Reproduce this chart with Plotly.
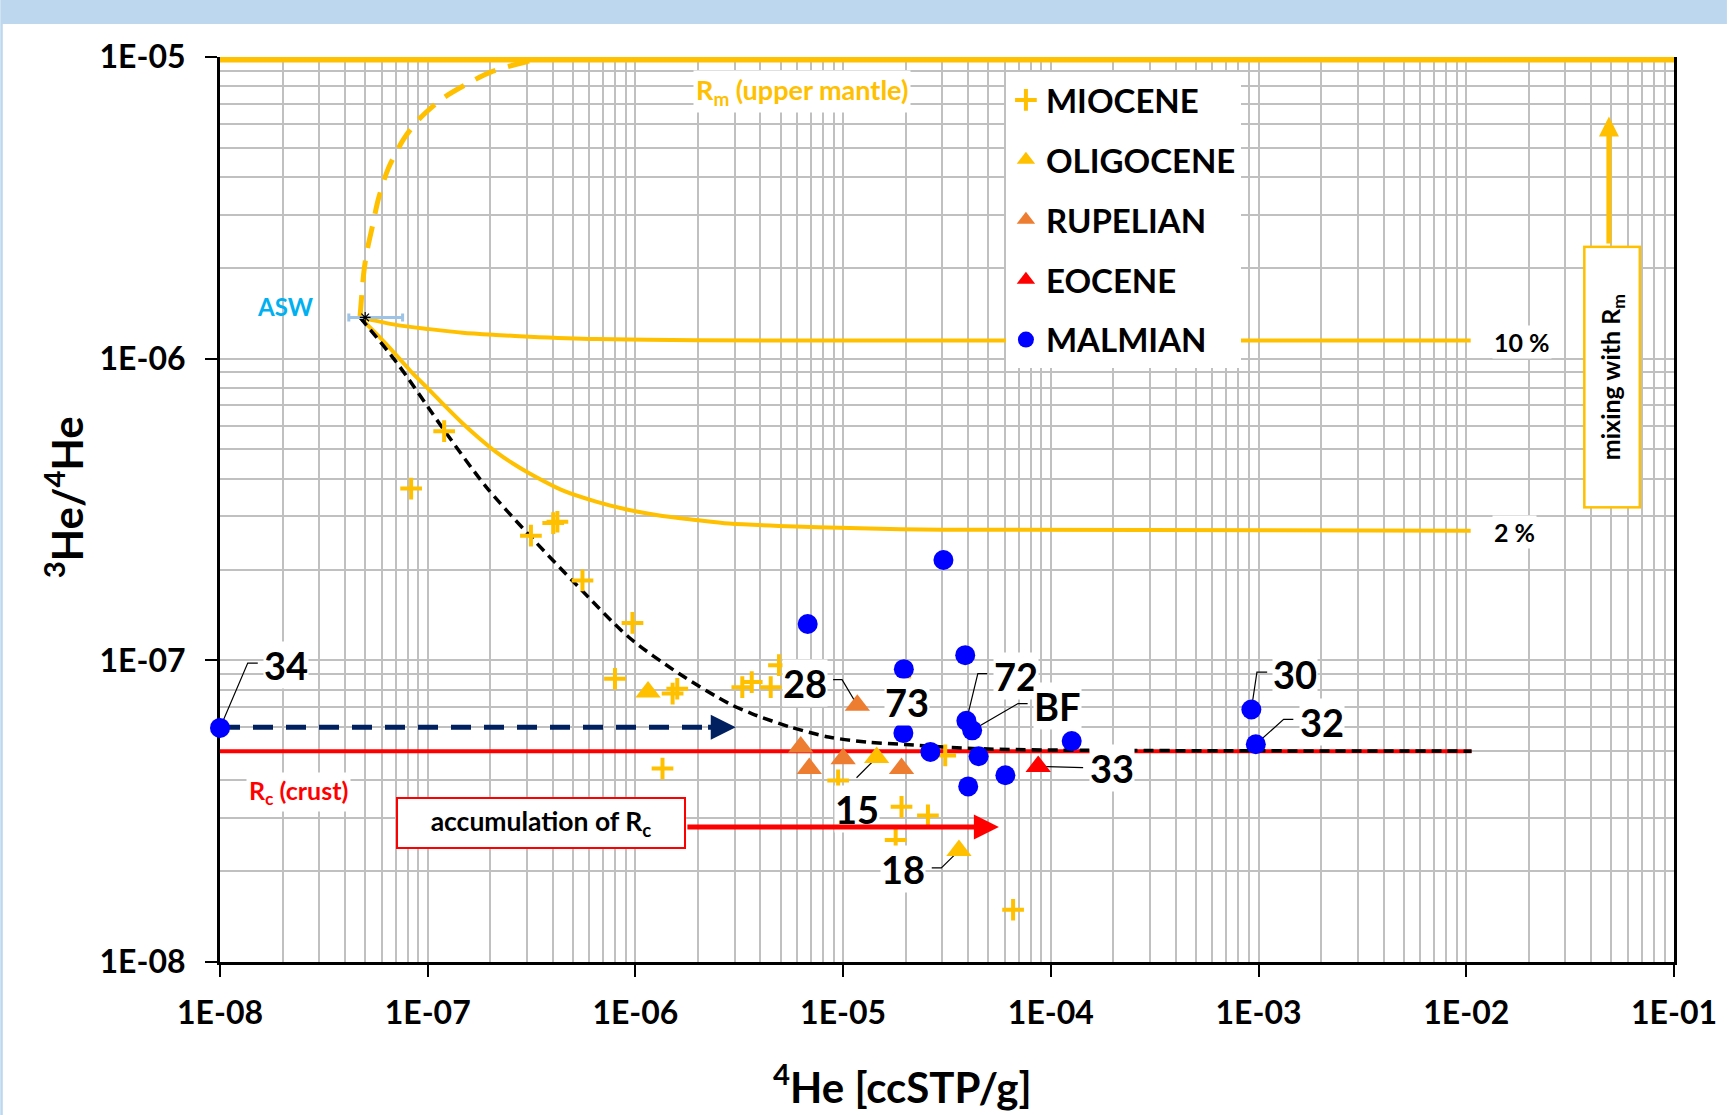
import numpy as np
import plotly.graph_objects as go

# ---------------- colours / fonts ----------------
GOLD = "#FFC000"
ORANGE = "#ED7D31"
RED = "#FF0000"
BLUE = "#0000FF"
NAVY = "#002060"
GRID = "#C0C0C0"
ASWBLUE = "#00B0F0"
FONT = "Lato"

# ---------------- sample data (4He [ccSTP/g], 3He/4He) ----------------
miocene_x = [1.20e-7, 8.32e-8, 3.14e-7, 4.02e-7, 4.21e-7, 5.56e-7, 9.68e-7, 7.97e-7,
             1.51e-6, 1.59e-6, 3.27e-6, 3.63e-6, 4.48e-6, 4.91e-6, 1.35e-6, 9.46e-6,
             1.91e-5, 2.56e-5, 1.79e-5, 2.08e-5, 3.10e-5, 6.58e-5]
miocene_y = [5.75e-7, 3.71e-7, 2.59e-7, 2.85e-7, 2.88e-7, 1.84e-7, 1.33e-7, 8.69e-8,
             7.76e-8, 8.05e-8, 8.15e-8, 8.47e-8, 8.15e-8, 9.64e-8, 4.38e-8, 4.00e-8,
             3.27e-8, 3.06e-8, 2.54e-8, 8.26e-8, 4.84e-8, 1.49e-8]

oligocene_x = [1.15e-6, 1.45e-5, 3.61e-5]
oligocene_y = [7.85e-8, 4.76e-8, 2.34e-8]

rupelian_x = [1.17e-5, 6.25e-6, 6.87e-6, 1.00e-5, 1.91e-5]
rupelian_y = [7.10e-8, 5.16e-8, 4.38e-8, 4.72e-8, 4.38e-8]

eocene_x = [8.69e-5]
eocene_y = [4.45e-8]

malmian_x = [1.00e-8, 6.75e-6, 3.04e-5, 1.96e-5, 3.87e-5, 1.95e-5, 3.92e-5, 4.18e-5,
             2.63e-5, 4.49e-5, 4.00e-5, 6.04e-5, 1.26e-4, 9.23e-4, 9.70e-4]
malmian_y = [5.97e-8, 1.32e-7, 2.15e-7, 9.35e-8, 1.04e-7, 5.74e-8, 6.30e-8, 5.86e-8,
             4.97e-8, 4.81e-8, 3.82e-8, 4.16e-8, 5.40e-8, 6.87e-8, 5.27e-8]

# ---------------- reference values ----------------
R_mantle = 1.0e-5
R_crust = 5.0e-8
asw_x, asw_y = 5.0e-8, 1.37e-6
asw_err_minus, asw_err_plus = 0.83e-8, 2.57e-8

# mixing curves
mix10_x = [4.72e-8, 7.04e-8, 1.02e-7, 1.47e-7, 2.13e-7, 3.08e-7, 6.46e-7, 1.95e-6, 4.91e-6, 1.05e-2]
mix10_y = [1.37e-6, 1.294e-6, 1.253e-6, 1.219e-6, 1.199e-6, 1.183e-6, 1.161e-6, 1.151e-6, 1.148e-6, 1.148e-6]

mix2_x = [4.72e-8, 5.85e-8, 7.04e-8, 8.45e-8, 1.02e-7, 1.22e-7, 1.47e-7, 1.77e-7, 2.13e-7, 2.56e-7,
          3.08e-7, 4.46e-7, 6.46e-7, 9.33e-7, 1.35e-6, 1.95e-6, 2.82e-6, 4.91e-6, 3.0e-5, 1.05e-2]
mix2_y = [1.37e-6, 1.18e-6, 1.03e-6, 8.95e-7, 7.87e-7, 6.93e-7, 6.11e-7, 5.45e-7, 4.91e-7, 4.50e-7,
          4.17e-7, 3.66e-7, 3.36e-7, 3.15e-7, 3.01e-7, 2.92e-7, 2.84e-7, 2.79e-7, 2.71e-7, 2.69e-7]

crust_mix_x = [4.72e-8, 7.04e-8, 1.20e-7, 1.91e-7, 3.08e-7, 5.16e-7, 9.33e-7, 1.62e-6, 2.82e-6,
               3.65e-6, 5.57e-6, 8.51e-6, 1.30e-5, 1.99e-5, 3.04e-5, 4.65e-5, 1.08e-4, 1.06e-2]
crust_mix_y = [1.37e-6, 9.77e-7, 5.79e-7, 3.76e-7, 2.60e-7, 1.79e-7, 1.19e-7, 9.04e-8, 7.19e-8,
               6.65e-8, 6.01e-8, 5.57e-8, 5.36e-8, 5.26e-8, 5.16e-8, 5.09e-8, 5.04e-8, 5.00e-8]

mantle_mix_x = [4.72e-8, 4.92e-8, 5.08e-8, 5.42e-8, 5.78e-8, 6.44e-8, 7.67e-8, 9.12e-8,
                1.17e-7, 1.50e-7, 2.01e-7, 2.99e-7, 3.90e-7]
mantle_mix_y = [1.37e-6, 1.92e-6, 2.24e-6, 2.75e-6, 3.37e-6, 4.25e-6, 5.35e-6, 6.24e-6,
                7.26e-6, 8.05e-6, 8.91e-6, 9.64e-6, 1.0e-5]

rm_line_x = [1e-8, 1e-1]
rc_line_x = [1e-8, 1.06e-2]

# ---------------- annotation geometry (data units) ----------------
label_text = ["34", "28", "73", "72", "BF", "33", "15", "18", "30", "32"]
label_x = [2.08e-8, 6.52e-6, 2.03e-5, 6.81e-5, 1.08e-4, 1.96e-4, 1.17e-5, 1.95e-5, 1.50e-3, 2.01e-3]
label_y = [9.66e-8, 8.41e-8, 7.28e-8, 8.85e-8, 7.05e-8, 4.38e-8, 3.22e-8, 2.04e-8, 9.04e-8, 6.25e-8]

leader_x = [[1.52e-8, 1.36e-8, 1.00e-8],
            [8.95e-6, 9.88e-6, 1.17e-5],
            [4.94e-5, 4.45e-5, 3.92e-5],
            [7.73e-5, 6.95e-5, 4.18e-5],
            [1.43e-4, 8.69e-5],
            [1.16e-5, 1.45e-5],
            [2.67e-5, 2.97e-5, 3.61e-5],
            [1.10e-3, 9.82e-4, 9.23e-4],
            [1.47e-3, 1.32e-3, 9.70e-4]]
leader_y = [[9.79e-8, 9.79e-8, 5.97e-8],
            [8.63e-8, 8.63e-8, 7.10e-8],
            [9.04e-8, 9.04e-8, 6.30e-8],
            [7.19e-8, 7.19e-8, 5.86e-8],
            [4.41e-8, 4.45e-8],
            [4.08e-8, 4.76e-8],
            [2.05e-8, 2.05e-8, 2.34e-8],
            [9.14e-8, 9.14e-8, 6.87e-8],
            [6.37e-8, 6.37e-8, 5.27e-8]]

navy_arrow_x = [1.0e-8, 2.45e-6]
navy_arrow_y = [6.0e-8, 6.0e-8]
navy_head_tail_x, navy_head_tip_x = 2.2e-6, 3.04e-6

red_arrow_tail_x, red_arrow_tip_x, red_arrow_y = 1.75e-6, 5.62e-5, 2.80e-8
gold_arrow_x, gold_arrow_tail_y, gold_arrow_tip_y = 4.86e-2, 2.38e-6, 6.35e-6

rm_label_pos = (6.34e-6, 7.67e-6)
asw_label_pos = (2.06e-8, 1.49e-6)
rc_label_pos = (2.40e-8, 3.66e-8)
pct10_pos = (1.33e-2, 1.138e-6)
pct2_pos = (1.33e-2, 2.67e-7)
accum_box_pos = (3.52e-7, 2.88e-8)
mixing_box_pos = (5.02e-2, 8.71e-7)

x_tick_vals = [1e-8, 1e-7, 1e-6, 1e-5, 1e-4, 1e-3, 1e-2, 1e-1]
x_tick_text = ["1E-08", "1E-07", "1E-06", "1E-05", "1E-04", "1E-03", "1E-02", "1E-01"]
y_tick_vals = [1e-8, 1e-7, 1e-6, 1e-5]
y_tick_text = ["1E-08", "1E-07", "1E-06", "1E-05"]
x_minor = [d * 10.0 ** k for k in range(-8, -1) for d in range(2, 10)]
y_minor = [d * 10.0 ** k for k in range(-8, -5) for d in range(2, 10)]

# ---------------- layout geometry ----------------
W, H = 1729, 1115
ML, MR, MT, MB = 220, 53, 57, 153
PW, PH = W - ML - MR, H - MT - MB


def pxx(px):
    return (px - ML) / PW


def pxy(py):
    return 1 - (py - MT) / PH


lg = np.log10

fig = go.Figure()

# upper-mantle line
fig.add_trace(go.Scatter(x=rm_line_x, y=[R_mantle, R_mantle], mode="lines",
                         line=dict(color=GOLD, width=11), showlegend=False, hoverinfo="skip"))
# ASW -> mantle dashed curve
fig.add_trace(go.Scatter(x=mantle_mix_x, y=mantle_mix_y, mode="lines",
                         line=dict(color=GOLD, width=5, dash="22px,13px", shape="spline", smoothing=0.8),
                         showlegend=False, hoverinfo="skip"))
# 10 % and 2 % mixing curves
for cx, cy in ((mix10_x, mix10_y), (mix2_x, mix2_y)):
    fig.add_trace(go.Scatter(x=cx, y=cy, mode="lines",
                             line=dict(color=GOLD, width=4, shape="spline", smoothing=0.8),
                             showlegend=False, hoverinfo="skip"))
# crust line
fig.add_trace(go.Scatter(x=rc_line_x, y=[R_crust, R_crust], mode="lines",
                         line=dict(color=RED, width=4), showlegend=False, hoverinfo="skip"))
# ASW -> crust accumulation curve
fig.add_trace(go.Scatter(x=crust_mix_x, y=crust_mix_y, mode="lines",
                         line=dict(color="black", width=3.5, dash="10px,6px", shape="spline", smoothing=0.8),
                         showlegend=False, hoverinfo="skip"))
# navy dashed arrow
fig.add_trace(go.Scatter(x=navy_arrow_x, y=navy_arrow_y, mode="lines",
                         line=dict(color=NAVY, width=5, dash="20px,13px"),
                         showlegend=False, hoverinfo="skip"))
# ASW point with range
fig.add_trace(go.Scatter(x=[asw_x], y=[asw_y], mode="markers",
                         marker=dict(symbol="asterisk-open", size=9, color="black",
                                     line=dict(color="black", width=1.2)),
                         error_x=dict(type="data", symmetric=False, array=[asw_err_plus],
                                      arrayminus=[asw_err_minus], color="#9DC3E6", thickness=3, width=4),
                         showlegend=False, hoverinfo="skip"))
# leader lines
lx, ly = [], []
for xs, ys in zip(leader_x, leader_y):
    lx += xs + [None]
    ly += ys + [None]
fig.add_trace(go.Scatter(x=lx, y=ly, mode="lines", line=dict(color="black", width=1.2),
                         showlegend=False, hoverinfo="skip"))

# sample series
series = [
    ("MIOCENE", miocene_x, miocene_y, dict(symbol="cross-thin", size=15.5, color=GOLD,
                                           line=dict(color=GOLD, width=4))),
    ("OLIGOCENE", oligocene_x, oligocene_y, dict(symbol="triangle-up", size=22, color=GOLD)),
    ("RUPELIAN", rupelian_x, rupelian_y, dict(symbol="triangle-up", size=22, color=ORANGE)),
    ("EOCENE", eocene_x, eocene_y, dict(symbol="triangle-up", size=22, color=RED)),
    ("MALMIAN", malmian_x, malmian_y, dict(symbol="circle", size=20, color=BLUE)),
]
for name, sx, sy, mk in series:
    fig.add_trace(go.Scatter(x=sx, y=sy, mode="markers", name=name, marker=mk,
                             legendgroup=name, cliponaxis=False))

ann = []
bold = dict(family=FONT, color="black", weight="bold")
for t, x, y in zip(label_text, label_x, label_y):
    ann.append(dict(x=lg(x), y=lg(y), text=t, showarrow=False, bgcolor="white", borderpad=0,
                    font=dict(bold, size=38)))
ann.append(dict(x=lg(rm_label_pos[0]), y=lg(rm_label_pos[1]), text="R<sub>m</sub> (upper mantle)",
                showarrow=False, bgcolor="white", borderpad=2,
                font=dict(family=FONT, size=27, color=GOLD, weight="bold")))
ann.append(dict(x=lg(asw_label_pos[0]), y=lg(asw_label_pos[1]), text="ASW", showarrow=False,
                font=dict(family=FONT, size=24, color=ASWBLUE, weight="bold")))
ann.append(dict(x=lg(rc_label_pos[0]), y=lg(rc_label_pos[1]), text="R<sub>c</sub> (crust)",
                showarrow=False, bgcolor="white", borderpad=2,
                font=dict(family=FONT, size=25, color=RED, weight="bold")))
ann.append(dict(x=lg(pct10_pos[0]), y=lg(pct10_pos[1]), text="10 %", showarrow=False, xanchor="left",
                bgcolor="white", font=dict(bold, size=25)))
ann.append(dict(x=lg(pct2_pos[0]), y=lg(pct2_pos[1]), text="2 %", showarrow=False, xanchor="left",
                bgcolor="white", font=dict(bold, size=25)))
ann.append(dict(x=lg(accum_box_pos[0]), y=lg(accum_box_pos[1]), text="accumulation of R<sub>c</sub>",
                showarrow=False, bgcolor="white", bordercolor=RED, borderwidth=2, borderpad=1,
                width=284, height=46, font=dict(bold, size=26.5)))
ann.append(dict(x=lg(mixing_box_pos[0]), y=lg(mixing_box_pos[1]), text="mixing with R<sub>m</sub>",
                showarrow=False, textangle=-90, bgcolor="white", bordercolor=GOLD, borderwidth=2.5,
                borderpad=1, width=256, height=51, font=dict(bold, size=25)))
# arrows
ann.append(dict(x=lg(red_arrow_tip_x), y=lg(red_arrow_y), ax=lg(red_arrow_tail_x), ay=lg(red_arrow_y),
                xref="x", yref="y", axref="x", ayref="y", text="", showarrow=True,
                arrowhead=2, arrowwidth=5, arrowsize=1.0, arrowcolor=RED))
ann.append(dict(x=lg(gold_arrow_x), y=lg(gold_arrow_tip_y), ax=lg(gold_arrow_x), ay=lg(gold_arrow_tail_y),
                xref="x", yref="y", axref="x", ayref="y", text="", showarrow=True,
                arrowhead=2, arrowwidth=5, arrowsize=0.8, arrowcolor=GOLD))
ann.append(dict(x=lg(navy_head_tip_x), y=lg(navy_arrow_y[0]), ax=lg(navy_head_tail_x), ay=lg(navy_arrow_y[0]),
                xref="x", yref="y", axref="x", ayref="y", text="", showarrow=True,
                arrowhead=2, arrowwidth=5, arrowsize=1.0, arrowcolor=NAVY))
# axis titles
ann.append(dict(xref="paper", yref="paper", x=pxx(903), y=pxy(1084), xanchor="center", yanchor="middle",
                text="<sup>4</sup>He [ccSTP/g]", showarrow=False, font=dict(bold, size=42)))
ann.append(dict(xref="paper", yref="paper", x=pxx(64), y=pxy(497), xanchor="center", yanchor="middle",
                text="<sup>3</sup>He/<sup>4</sup>He", textangle=-90, showarrow=False,
                font=dict(bold, size=42)))

shapes = [
    dict(type="rect", xref="paper", yref="paper", x0=pxx(0), x1=pxx(W), y0=pxy(24), y1=pxy(0),
         fillcolor="#BDD7EE", line=dict(width=0), layer="below"),
    dict(type="rect", xref="paper", yref="paper", x0=pxx(0), x1=pxx(2.5), y0=pxy(H), y1=pxy(24),
         fillcolor="#BDD7EE", line=dict(width=0), layer="below"),
]

axis_common = dict(type="log", tickmode="array", ticks="outside", tickwidth=2, tickcolor="black",
                   showline=True, linecolor="black", showgrid=True, gridcolor=GRID, gridwidth=2,
                   zeroline=False, layer="below traces",
                   tickfont=dict(family=FONT, size=32, color="black", weight="bold"))

fig.update_layout(
    width=W, height=H, margin=dict(l=ML, r=MR, t=MT, b=MB),
    paper_bgcolor="white", plot_bgcolor="white",
    xaxis=dict(axis_common, range=[-8, -1], tickvals=x_tick_vals, ticktext=x_tick_text,
               ticklen=12, linewidth=3, ticklabelstandoff=9,
               minor=dict(tickvals=x_minor, showgrid=True, gridcolor=GRID, gridwidth=2, ticks="")),
    yaxis=dict(axis_common, range=[-8, -5], tickvals=y_tick_vals, ticktext=y_tick_text,
               ticklen=12, linewidth=3, mirror=True, ticklabelstandoff=13,
               minor=dict(tickvals=y_minor, showgrid=True, gridcolor=GRID, gridwidth=2, ticks="")),
    legend=dict(x=pxx(1007), y=pxy(72), xanchor="left", yanchor="top", bgcolor="white",
                borderwidth=0, tracegroupgap=14, traceorder="grouped",
                font=dict(family=FONT, size=33, color="black", weight="bold")),
    annotations=ann, shapes=shapes, showlegend=True,
)

fig.write_html("out.html")
